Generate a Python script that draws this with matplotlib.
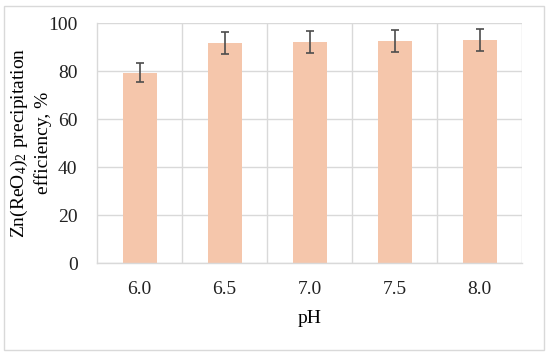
import matplotlib
matplotlib.use("Agg")
import matplotlib.pyplot as plt
from matplotlib.patches import Rectangle

# Data
PH_LABELS = ["6.0", "6.5", "7.0", "7.5", "8.0"]
EFFICIENCY = [79.3, 91.6, 91.9, 92.5, 92.9]
ERROR = [4.0, 4.5, 4.6, 4.7, 4.5]

BAR_COLOR = "#F5C6AB"
GRID_COLOR = "#D9D9D9"
ERR_COLOR = "#4D4D4D"
FS = 14

plt.rcParams["font.family"] = ["Liberation Serif", "DejaVu Serif"]
plt.rcParams["mathtext.fontset"] = "custom"
plt.rcParams["mathtext.rm"] = "Liberation Serif"
plt.rcParams["mathtext.it"] = "Liberation Serif:italic"


def main():
    fig = plt.figure(figsize=(5.5, 3.56), dpi=100)
    ax = fig.add_axes([97 / 550, 1 - 263 / 356, 425 / 550, 240 / 356])

    x = list(range(len(PH_LABELS)))
    ax.bar(x, EFFICIENCY, width=0.4, color=BAR_COLOR, zorder=2)
    ax.errorbar(x, EFFICIENCY, yerr=ERROR, fmt="none", ecolor=ERR_COLOR,
                elinewidth=1.2, capsize=3, capthick=1.2, zorder=3)

    ax.set_xlim(-0.5, len(PH_LABELS) - 0.5)
    ax.set_ylim(0, 100)
    ax.set_yticks(range(0, 101, 20))
    ax.set_xticks(x)
    ax.set_xticklabels(PH_LABELS)

    # gridlines: horizontal at ticks, vertical at category boundaries
    ax.set_axisbelow(True)
    ax.grid(axis="y", color=GRID_COLOR, linewidth=1)
    for b in [i + 0.5 for i in x]:
        ax.axvline(b, color=GRID_COLOR, linewidth=1, zorder=0)

    for side in ["top", "right"]:
        ax.spines[side].set_visible(False)
    for side in ["left", "bottom"]:
        ax.spines[side].set_color(GRID_COLOR)
        ax.spines[side].set_linewidth(1)

    ax.tick_params(length=0, labelsize=FS, colors="#222222")
    ax.tick_params(axis="x", pad=13)
    ax.tick_params(axis="y", pad=14)

    ax.set_xlabel("pH", fontsize=FS)
    ax.set_ylabel("Zn(ReO$_4$)$_2$ precipitation\nefficiency, %",
                  fontsize=FS, linespacing=1.3)
    ax.xaxis.set_label_coords(0.5, -0.195)
    ax.yaxis.set_label_coords(-0.105, 0.5)

    # light frame around the whole chart
    fig.patches.append(Rectangle((4 / 550, 6 / 356), 540 / 550, 344 / 356,
                                 transform=fig.transFigure, fill=False,
                                 edgecolor=GRID_COLOR, linewidth=1))

    fig.savefig("out.png", dpi=100)
    plt.close(fig)


if __name__ == "__main__":
    main()
